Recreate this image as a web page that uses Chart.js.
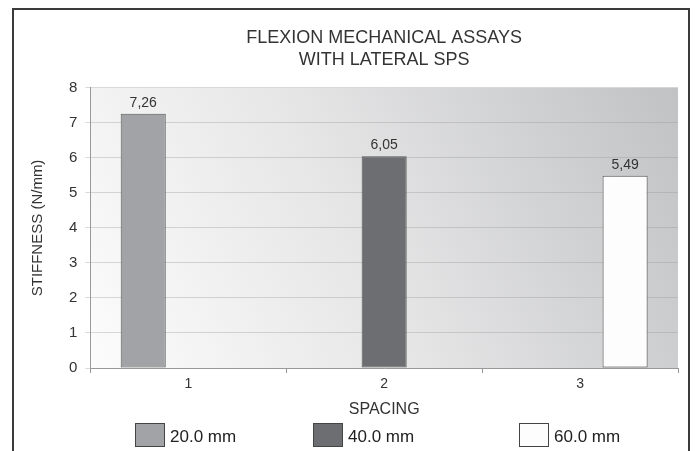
<!DOCTYPE html>
<html>
<head>
<meta charset="utf-8">
<script src="https://cdn.jsdelivr.net/npm/chart.js@4"></script>
<style>
  html, body { margin: 0; padding: 0; background: #fff; }
  #wrap { position: relative; width: 695px; height: 451px; overflow: hidden; }
  #frame { position: absolute; left: 12px; top: 8px; width: 674px; height: 470px;
           border: 2px solid #3a3a3a; pointer-events: none; }
</style>
</head>
<body>
<div id="wrap">
  <canvas id="chart" width="695" height="451"></canvas>
  <div id="frame"></div>
</div>
<script>
// --- Data ---
const spacingLabels = ['1', '2', '3'];
const seriesNames = ['20.0 mm', '40.0 mm', '60.0 mm'];
const stiffness20 = [7.26, null, null];
const stiffness40 = [null, 6.05, null];
const stiffness60 = [null, null, 5.49];
const yTicks = [0, 1, 2, 3, 4, 5, 6, 7, 8];

const FONT = "'Liberation Sans', Arial, Helvetica, sans-serif";
const TEXT = '#333';

// plot area background: white on the left fading to grey on the right
const plotBackground = {
    id: 'plotBackground',
    beforeDraw(chart) {
        const { ctx, chartArea: a } = chart;
        const g = ctx.createLinearGradient(a.left, a.bottom, a.right, a.top);
        g.addColorStop(0, '#fcfcfc');
        g.addColorStop(0.45, '#e6e6e7');
        g.addColorStop(1, '#c1c2c4');
        ctx.save();
        ctx.fillStyle = g;
        ctx.fillRect(a.left, a.top, a.right - a.left, a.bottom - a.top);
        ctx.restore();
    }
};

// value labels above each bar, with decimal comma
const valueLabels = {
    id: 'valueLabels',
    afterDatasetsDraw(chart) {
        const ctx = chart.ctx;
        ctx.save();
        ctx.font = '14px ' + FONT;
        ctx.fillStyle = TEXT;
        ctx.textAlign = 'center';
        ctx.textBaseline = 'bottom';
        chart.data.datasets.forEach((ds, i) => {
            chart.getDatasetMeta(i).data.forEach((bar, j) => {
                const v = ds.data[j];
                if (v == null) return;
                ctx.fillText(v.toFixed(2).replace('.', ','), bar.x, bar.y - 4);
            });
        });
        ctx.restore();
    }
};

// legend row under the axis title (the original spaces it unevenly)
const legendX = [135, 313, 519];
const bottomLegend = {
    id: 'bottomLegend',
    afterDraw(chart) {
        const ctx = chart.ctx;
        const cy = 435;
        ctx.save();
        ctx.font = '17px ' + FONT;
        ctx.textBaseline = 'middle';
        ctx.textAlign = 'left';
        chart.data.datasets.forEach((ds, i) => {
            const x = legendX[i];
            ctx.fillStyle = ds.backgroundColor;
            ctx.fillRect(x, cy - 12, 30, 24);
            ctx.strokeStyle = '#444';
            ctx.lineWidth = 1;
            ctx.strokeRect(x + 0.5, cy - 11.5, 29, 23);
            ctx.fillStyle = '#222';
            ctx.fillText(ds.label, x + 35, cy + 2);
        });
        ctx.restore();
    }
};

const barStyle = { borderColor: '#555', borderWidth: 1, borderSkipped: false,
                   barPercentage: 1, categoryPercentage: 0.69 };

new Chart(document.getElementById('chart'), {
    type: 'bar',
    data: {
        labels: spacingLabels,
        datasets: [
            { label: seriesNames[0], data: stiffness20, backgroundColor: '#a1a3a6', ...barStyle },
            { label: seriesNames[1], data: stiffness40, backgroundColor: '#6d6e71', ...barStyle },
            { label: seriesNames[2], data: stiffness60, backgroundColor: '#fdfdfd', ...barStyle }
        ]
    },
    options: {
        responsive: false,
        animation: false,
        layout: { padding: { left: 29, right: 17, top: 0, bottom: 32 } },
        plugins: {
            title: {
                display: true,
                fullSize: false,
                text: ['FLEXION MECHANICAL ASSAYS', 'WITH LATERAL SPS'],
                color: TEXT,
                font: { family: FONT, size: 18, weight: 'normal', lineHeight: 1.22 },
                padding: { top: 27, bottom: 17 }
            },
            legend: { display: false },
            tooltip: { enabled: false }
        },
        scales: {
            x: {
                grid: { display: true, drawOnChartArea: false, offset: true, color: '#999', tickLength: 5 },
                border: { color: '#999' },
                ticks: { color: TEXT, font: { family: FONT, size: 14 }, padding: 3 },
                title: { display: true, text: 'SPACING', color: TEXT,
                         font: { family: FONT, size: 16 }, padding: { top: 4, bottom: 0 } }
            },
            y: {
                min: 0,
                max: 8,
                afterBuildTicks(axis) { axis.ticks = yTicks.map(v => ({ value: v })); },
                grid: { color: 'rgba(150,150,150,0.35)', tickLength: 5 },
                border: { color: '#999' },
                ticks: { color: TEXT, font: { family: FONT, size: 15 }, padding: 8 },
                title: { display: true, text: 'STIFFNESS (N/mm)', color: TEXT,
                         font: { family: FONT, size: 15 }, padding: { top: 0, bottom: 14 } }
            }
        }
    },
    plugins: [plotBackground, valueLabels, bottomLegend]
});
</script>
</body>
</html>
